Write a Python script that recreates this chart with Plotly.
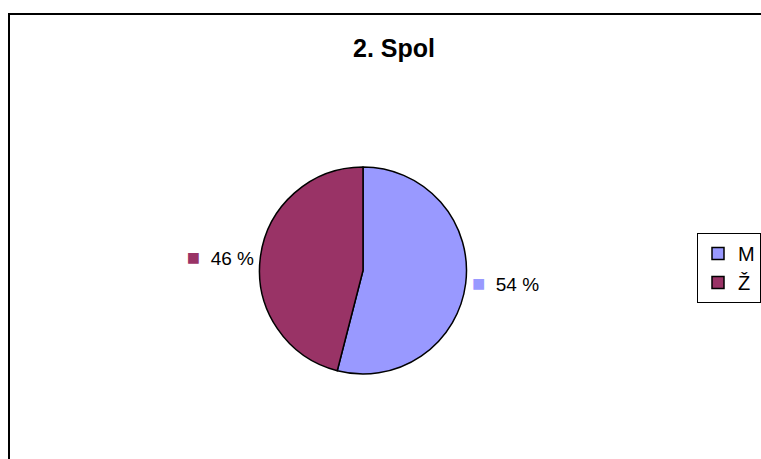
import plotly.graph_objects as go

# survey question 2: gender split
labels = ['M', 'Ž']
values = [54, 46]
colors = ['#9999FF', '#993366']

W, H = 761, 459

texts = [f"<span style='color:{c};font-size:22px'>■</span>&nbsp; {v} %" for c, v in zip(colors, values)]


def px(x):
    return x / W


def py(y):
    return 1 - y / H


fig = go.Figure()
fig.add_trace(go.Pie(
    labels=labels,
    values=values,
    text=texts,
    texttemplate='%{text}',
    textposition='outside',
    textfont=dict(family='Liberation Sans, Arial', size=19, color='black'),
    marker=dict(colors=colors, line=dict(color='black', width=1.5)),
    sort=False,
    direction='clockwise',
    rotation=0,
    hoverinfo='label+percent',
    domain=dict(x=[px(150), px(576)], y=[py(374), py(167)]),
))

# chart frame (Excel style, cut off at right and bottom)
fig.add_shape(type='rect', xref='paper', yref='paper',
              x0=px(9), x1=1.2, y0=-0.2, y1=py(14),
              line=dict(color='black', width=2))

fig.update_layout(
    width=W,
    height=H,
    margin=dict(l=0, r=0, t=0, b=0, autoexpand=False),
    paper_bgcolor='white',
    plot_bgcolor='white',
    title=dict(text='<b>2. Spol</b>', x=px(394), xanchor='center',
               y=py(48), yanchor='middle',
               font=dict(family='Liberation Sans, Arial', size=25, color='black')),
    showlegend=True,
    legend=dict(x=px(697), xanchor='left', y=py(233), yanchor='top',
                bordercolor='black', borderwidth=1, bgcolor='white',
                font=dict(family='Liberation Sans, Arial', size=20, color='black'),
                itemwidth=30),
)

fig.write_html('out.html',
               config={'displayModeBar': False},
               post_script="document.body.style.margin='0';"
                           "document.body.style.overflow='hidden';")
